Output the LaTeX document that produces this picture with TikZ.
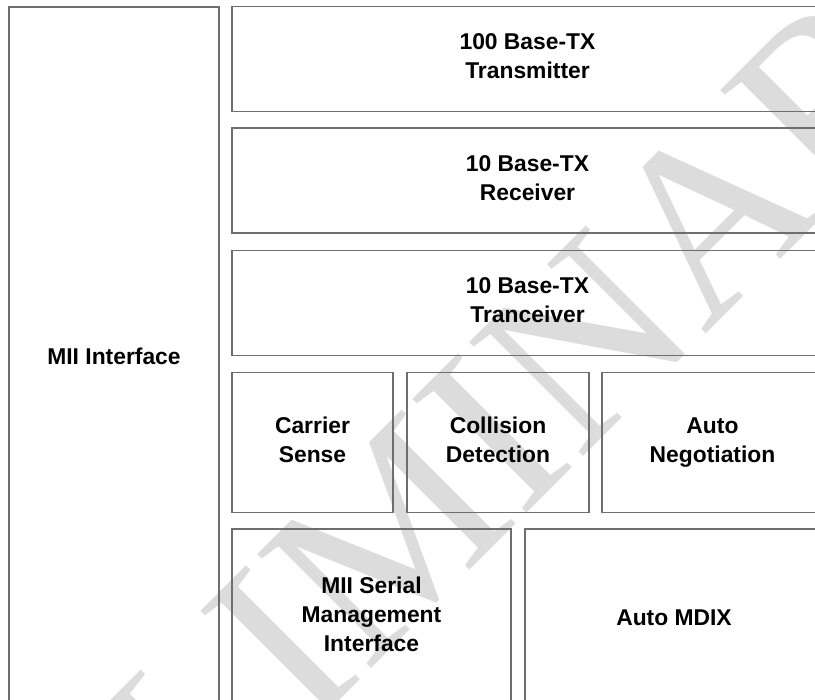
\documentclass[tikz,border=0pt]{standalone}
\usepackage{fontspec}
\setmainfont{Liberation Sans}
\newfontfamily\stampfont{Liberation Serif}
\usetikzlibrary{backgrounds}
\definecolor{blockline}{HTML}{6E6E6E}
\definecolor{blocktext}{HTML}{000000}
\definecolor{stampgray}{HTML}{DCDCDC}
\newcommand\tallstrut{\rule{0pt}{12.3pt}}
\newcommand\deepstrut{\rule[-3pt]{0pt}{3pt}}
\tikzset{
  block/.style={
    draw=blockline,
    line width=0.6pt,
    align=center,
    font=\bfseries\fontsize{13}{16.5}\selectfont,
    text=blocktext,
    inner sep=0pt,
    execute at begin node=\tallstrut,
    execute at end node=\deepstrut
  },
  layer/.style={block, minimum width=11.82cm, minimum height=2.09cm},
  func/.style={block, minimum height=2.79cm},
  mgmt/.style={block, minimum height=3.52cm},
  stamp/.style={
    font=\stampfont\fontsize{140}{140}\selectfont,
    text=stampgray,
    inner sep=0pt
  }
}

\begin{document}
\begin{tikzpicture}[x=1cm,y=1cm]
\useasboundingbox (0,0) rectangle (16.3,14);
\clip (0,0) rectangle (16.3,14);

\node[block, minimum width=4.2cm, minimum height=13.96cm] (mii) at (2.28,6.88) {MII Interface};

\node[layer] (tx) at (10.55,12.82) {100 Base-TX\\Transmitter};
\node[layer, minimum height=2.1cm] (rx) at (10.55,10.39) {10 Base-TX\\Receiver};
\node[layer] (trx) at (10.55,7.94) {10 Base-TX\\Tranceiver};

\node[func, minimum width=3.22cm] (carrier) at (6.25,5.15) {Carrier\\Sense};
\node[func, minimum width=3.64cm] (collision) at (9.96,5.15) {Collision\\Detection};
\node[func, minimum width=4.42cm] (autoneg) at (14.25,5.15) {Auto\\Negotiation};

\node[mgmt, minimum width=5.58cm] (serial) at (7.43,1.66) {MII Serial\\Management\\Interface};
\node[mgmt, minimum width=5.96cm] (mdix) at (13.48,1.66) {Auto MDIX};

\begin{pgfonlayer}{background}
  \clip (0,0) rectangle (16.3,14);
  \node[stamp, rotate=45] (prelim) at (8.3,3.8) {PRELIMINARY};
\end{pgfonlayer}

\end{tikzpicture}
\end{document}
